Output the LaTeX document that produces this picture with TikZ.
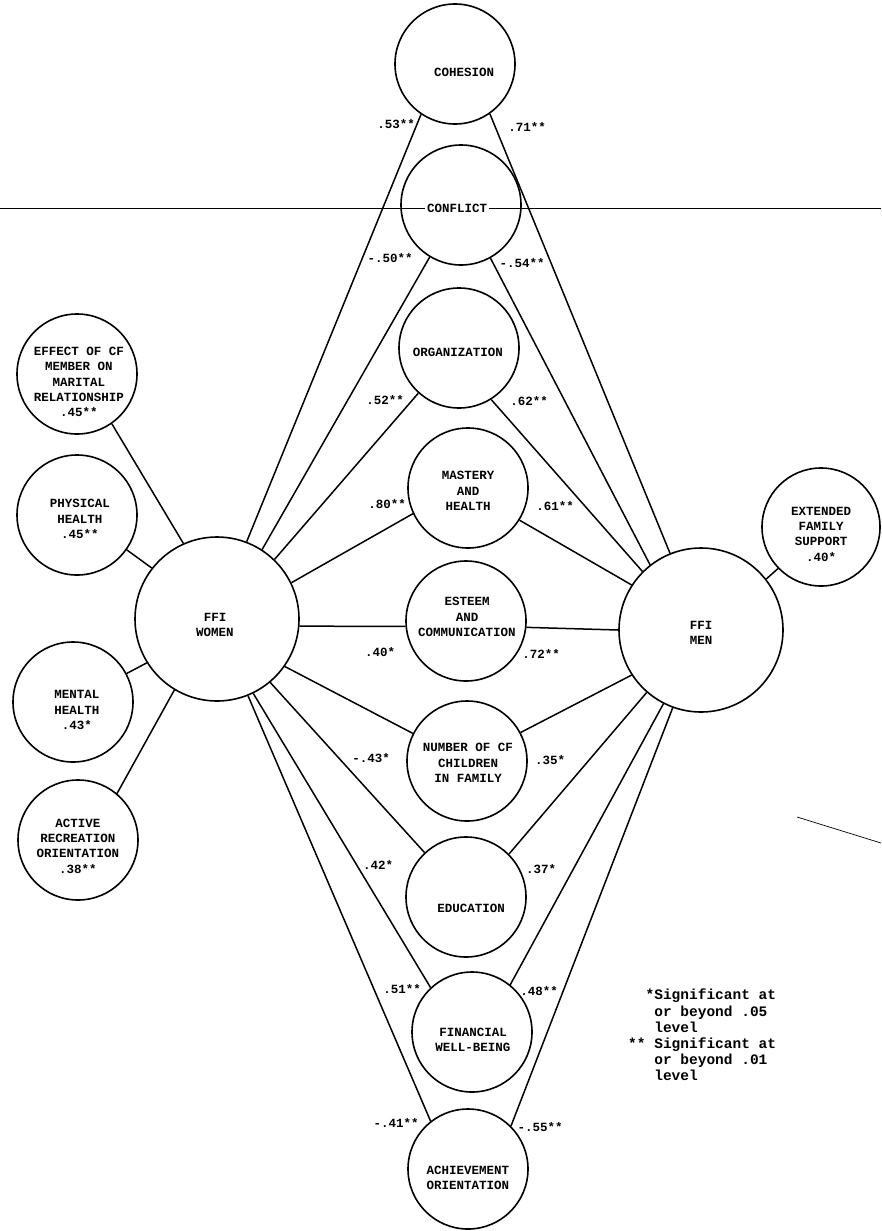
\documentclass[tikz,border=0pt]{standalone}
\usepackage{fontspec}
\setmonofont{Liberation Mono}
\usetikzlibrary{backgrounds}
\begin{document}
\begin{tikzpicture}[x=1pt,y=-1pt,
  circ/.style={draw, fill=white, circle, line width=1.6pt, inner sep=0pt, minimum size=120pt},
  bigcirc/.style={circ, minimum size=164pt},
  txt/.style={font=\ttfamily\bfseries\fontsize{12.5}{15.3}\selectfont, align=center, inner sep=0pt},
  val/.style={font=\ttfamily\bfseries\fontsize{12.5}{15}\selectfont, inner sep=0pt},
  leg/.style={font=\ttfamily\bfseries\fontsize{14.5}{16.2}\selectfont, align=left, inner sep=0pt},
  link/.style={line width=1.5pt},
  scan/.style={line width=0.7pt},
]
\useasboundingbox (0,0) rectangle (881,1231);

% middle column
\node[circ] (coh) at (455,64) {};
\node[circ] (con) at (461,205) {};
\node[circ] (org) at (459,348) {};
\node[circ] (mas) at (468,488) {};
\node[circ] (est) at (466,621) {};
\node[circ] (num) at (467,761) {};
\node[circ] (edu) at (466,897) {};
\node[circ] (fin) at (472,1032) {};
\node[circ] (ach) at (468,1169) {};

% main circles
\node[bigcirc] (wom) at (217,619) {};
\node[bigcirc] (men) at (701,630) {};

% side circles
\node[circ] (eff) at (77,374) {};
\node[circ] (phy) at (77,515) {};
\node[circ] (mnt) at (73,702) {};
\node[circ] (act) at (78,840) {};
\node[circ, minimum size=118pt] (ext) at (821,527) {};

% scan marks
\coordinate (s1) at (0,208);
\coordinate (s2) at (881,208);
\coordinate (s3) at (797,817);
\coordinate (s4) at (881,843);
\draw[scan] (s1) -- (s2);
\draw[scan] (s3) -- (s4);

% texts
\node[txt] (cohT) at (464,72) {COHESION};
\node[txt, fill=white, inner sep=2pt] (conT) at (457,208) {CONFLICT};
\node[txt] (orgT) at (458,352) {ORGANIZATION};
\node[txt] (masT) at (468,491) {MASTERY\\AND\\HEALTH};
\node[txt] (estT) at (467,617) {ESTEEM\\AND\\COMMUNICATION};
\node[txt] (numT) at (468,763) {NUMBER OF CF\\CHILDREN\\IN FAMILY};
\node[txt] (eduT) at (471,908) {EDUCATION};
\node[txt] (finT) at (473,1040) {FINANCIAL\\WELL-BEING};
\node[txt] (achT) at (468,1178) {ACHIEVEMENT\\ORIENTATION};
\node[txt] (womT) at (215,625) {FFI\\WOMEN};
\node[txt] (menT) at (701,633) {FFI\\MEN};
\node[txt] (effT) at (79,382) {EFFECT OF CF\\MEMBER ON\\MARITAL\\RELATIONSHIP\\.45**};
\node[txt] (phyT) at (80,519) {PHYSICAL\\HEALTH\\.45**};
\node[txt] (mntT) at (77,710) {MENTAL\\HEALTH\\.43*};
\node[txt] (actT) at (78,846) {ACTIVE\\RECREATION\\ORIENTATION\\.38**};
\node[txt] (extT) at (821,534) {EXTENDED\\FAMILY\\SUPPORT\\.40*};

% connectors
\begin{pgfonlayer}{background}
\draw[link] (wom.69.7) -- (coh.-124.5);
\draw[link] (wom.57.4) -- (con.-121.9);
\draw[link] (wom.46.9) -- (org.-132.6);
\draw[link] (wom.26) -- (mas.-155);
\draw[link] (wom.-5) -- (est.-175);
\draw[link] (wom.-35.8) -- (num.153);
\draw[link] (wom.-50.4) -- (edu.133.6);
\draw[link] (wom.-64) -- (fin.133);
\draw[link] (wom.-68.5) -- (ach.128);
\draw[link] (men.112.8) -- (coh.-55.4);
\draw[link] (men.128.7) -- (con.-61.5);
\draw[link] (men.135) -- (org.-58.7);
\draw[link] (men.147.5) -- (mas.-32.9);
\draw[link] (men.180) -- (est.-6.5);
\draw[link] (men.-147) -- (num.28);
\draw[link] (men.-131) -- (edu.45);
\draw[link] (men.-117) -- (fin.51);
\draw[link] (men.-110) -- (ach.45.6);
\draw[link] (eff.-55.5) -- (wom.114.4);
\draw[link] (phy.-35) -- (wom.142.7);
\draw[link] (mnt.28) -- (wom.212);
\draw[link] (act.50.9) -- (wom.239.3);
\draw[link] (ext.224) -- (men.38);
\end{pgfonlayer}

% coefficient labels
\node[val] (v1) at (396,124) {.53**};
\node[val] (v2) at (527,127) {.71**};
\node[val] (v3) at (390,258) {-.50**};
\node[val] (v4) at (522,263) {-.54**};
\node[val] (v5) at (385,400) {.52**};
\node[val] (v6) at (529,401) {.62**};
\node[val] (v7) at (387,504) {.80**};
\node[val] (v8) at (555,506) {.61**};
\node[val] (v9) at (380,652) {.40*};
\node[val] (v10) at (541,654) {.72**};
\node[val] (v11) at (371,758) {-.43*};
\node[val] (v12) at (550,760) {.35*};
\node[val] (v13) at (378,865) {.42*};
\node[val] (v14) at (541,869) {.37*};
\node[val] (v15) at (402,989) {.51**};
\node[val] (v16) at (539,991) {.48**};
\node[val] (v17) at (396,1123) {-.41**};
\node[val] (v18) at (540,1127) {-.55**};

% legend
\node[leg, anchor=north west] (legend) at (628,989)
 {\phantom{**}*Significant at\\\phantom{***}or beyond .05\\\phantom{***}level\\** Significant at\\\phantom{***}or beyond .01\\\phantom{***}level};
\end{tikzpicture}
\end{document}
